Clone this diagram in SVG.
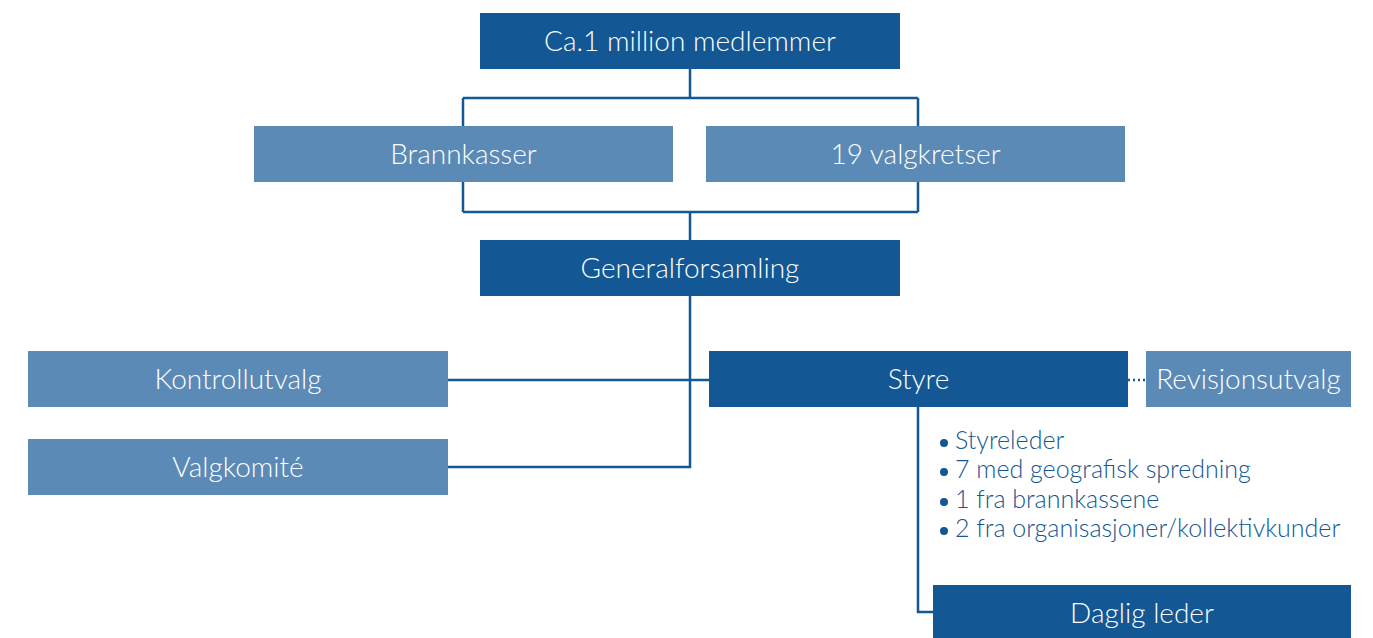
<svg xmlns="http://www.w3.org/2000/svg" width="1373" height="638" viewBox="0 0 1373 638">
<style>
.dark{fill:#135794}
.light{fill:#5a8ab5}
.lbl{font-family:Lato,"Open Sans","Liberation Sans",sans-serif;font-size:28px;fill:#ffffff;text-anchor:middle;font-weight:300}
.bul{font-family:Lato,"Open Sans","Liberation Sans",sans-serif;font-size:25px;fill:#135794;font-weight:300}
.ln{fill:none;stroke:#135794;stroke-width:2.5}
</style>
<g id="connectors">
<path class="ln" d="M690 69V98M463 98H918M463 98V212M918 98V212M463 212H918M690 212V240"/>
<path class="ln" d="M690 296V467H448M448 380H709"/>
<path class="ln" d="M1128 380H1146" stroke-dasharray="2 3"/>
<path class="ln" d="M918 407V612H933"/>
</g>
<g id="n-medlemmer"><rect class="dark" x="480" y="13" width="420" height="56"/><text class="lbl" x="690" y="51">Ca.1 million medlemmer</text></g>
<g id="n-brannkasser"><rect class="light" x="254" y="126" width="419" height="56"/><text class="lbl" x="463.5" y="164">Brannkasser</text></g>
<g id="n-valgkretser"><rect class="light" x="706" y="126" width="419" height="56"/><text class="lbl" x="915.5" y="164">19 valgkretser</text></g>
<g id="n-generalforsamling"><rect class="dark" x="480" y="240" width="420" height="56"/><text class="lbl" x="690" y="278">Generalforsamling</text></g>
<g id="n-kontrollutvalg"><rect class="light" x="28" y="351" width="420" height="56"/><text class="lbl" x="238" y="389">Kontrollutvalg</text></g>
<g id="n-valgkomite"><rect class="light" x="28" y="439" width="420" height="56"/><text class="lbl" x="238" y="477">Valgkomité</text></g>
<g id="n-styre"><rect class="dark" x="709" y="351" width="419" height="56"/><text class="lbl" x="918.5" y="389">Styre</text></g>
<g id="n-revisjonsutvalg"><rect class="light" x="1146" y="351" width="205" height="56"/><text class="lbl" x="1248.5" y="389">Revisjonsutvalg</text></g>
<g id="n-styre-list">
<circle class="dark" cx="944" cy="443" r="4"/><text class="bul" x="955" y="449">Styreleder</text>
<circle class="dark" cx="944" cy="472" r="4"/><text class="bul" x="955" y="478">7 med geografisk spredning</text>
<circle class="dark" cx="944" cy="502" r="4"/><text class="bul" x="955" y="508">1 fra brannkassene</text>
<circle class="dark" cx="944" cy="531" r="4"/><text class="bul" x="955" y="537">2 fra organisasjoner/kollektivkunder</text>
</g>
<g id="n-daglig"><rect class="dark" x="933" y="585" width="418" height="56"/><text class="lbl" x="1142" y="623">Daglig leder</text></g>
</svg>
